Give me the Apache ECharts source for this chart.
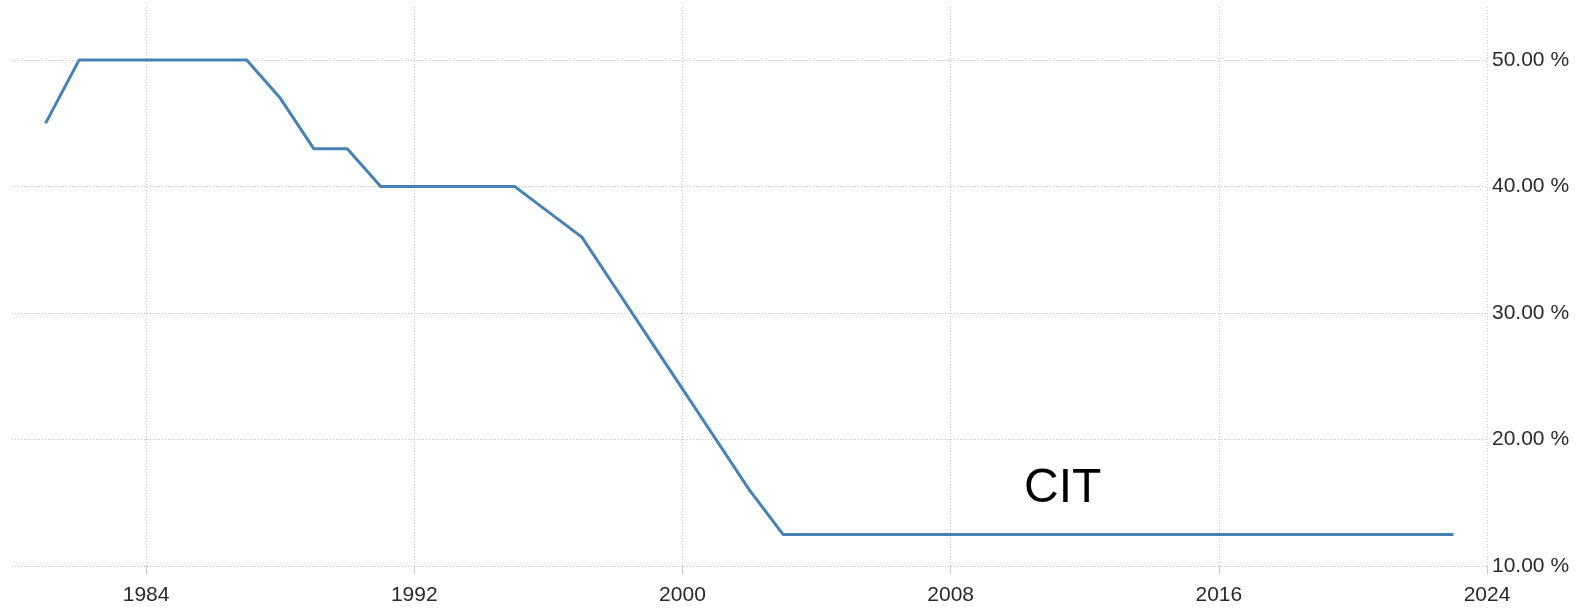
<!DOCTYPE html>
<html>
<head>
<meta charset="utf-8">
<script src="https://cdn.jsdelivr.net/npm/echarts@6/dist/echarts.min.js"></script>
<style>
  html, body { margin: 0; padding: 0; background: #fff; }
  #chart { width: 1584px; height: 608px; }
</style>
</head>
<body>
<div id="chart"></div>
<script>
// years on the x axis (1980 and 2024 are the edges of the plot)
var years = ['1980', '1981', '1982', '1983', '1984', '1985', '1986', '1987', '1988', '1989',
  '1990', '1991', '1992', '1993', '1994', '1995', '1996', '1997', '1998', '1999',
  '2000', '2001', '2002', '2003', '2004', '2005', '2006', '2007', '2008', '2009',
  '2010', '2011', '2012', '2013', '2014', '2015', '2016', '2017', '2018', '2019',
  '2020', '2021', '2022', '2023', '2024'];

// corporate income tax rate, %
var citRate = [null, 45, 50, 50, 50, 50, 50, 50, 47, 43,
  43, 40, 40, 40, 40, 40, 38, 36, 32, 28,
  24, 20, 16, 12.5, 12.5, 12.5, 12.5, 12.5, 12.5, 12.5,
  12.5, 12.5, 12.5, 12.5, 12.5, 12.5, 12.5, 12.5, 12.5, 12.5,
  12.5, 12.5, 12.5, 12.5, null];

var labelYears = ['1984', '1992', '2000', '2008', '2016', '2024'];

var gridColor = '#c8c8c8';
var textColor = '#2a2a2a';
var fontFamily = 'Liberation Sans, Arial, sans-serif';

function onLabelYear(index, value) {
  return labelYears.indexOf(years[index]) >= 0;
}

var chart = echarts.init(document.getElementById('chart'));

var option = {
  backgroundColor: '#fff',
  animation: false,
  grid: { left: 12, right: 97, top: 7, bottom: 42 },
  xAxis: {
    type: 'category',
    data: years,
    boundaryGap: false,
    axisLine: { show: false },
    axisTick: {
      show: true,
      interval: onLabelYear,
      length: 8,
      lineStyle: { color: gridColor, width: 1 }
    },
    axisLabel: {
      interval: onLabelYear,
      margin: 19,
      color: textColor,
      fontSize: 21,
      fontFamily: fontFamily
    },
    splitLine: {
      show: true,
      interval: onLabelYear,
      lineStyle: { color: gridColor, type: [1, 2], width: 1 }
    }
  },
  yAxis: {
    type: 'value',
    position: 'right',
    min: 10,
    max: 54.2,
    interval: 10,
    axisLine: { show: false },
    axisTick: { show: false },
    axisLabel: {
      margin: 5,
      showMaxLabel: false,
      color: textColor,
      fontSize: 21,
      fontFamily: fontFamily,
      formatter: function (v) { return v.toFixed(2) + ' %'; }
    },
    splitLine: {
      show: true,
      showMaxLine: false,
      lineStyle: { color: gridColor, type: [1, 2], width: 1 }
    }
  },
  graphic: [{
    type: 'text',
    left: 1024,
    top: 465,
    style: {
      text: 'CIT',
      fontSize: 48,
      fontFamily: fontFamily,
      fill: '#000'
    }
  }],
  series: [{
    name: 'CIT',
    type: 'line',
    data: citRate,
    showSymbol: false,
    connectNulls: false,
    lineStyle: { color: '#4682b4', width: 3 },
    itemStyle: { color: '#4682b4' }
  }]
};

chart.setOption(option);
</script>
</body>
</html>
